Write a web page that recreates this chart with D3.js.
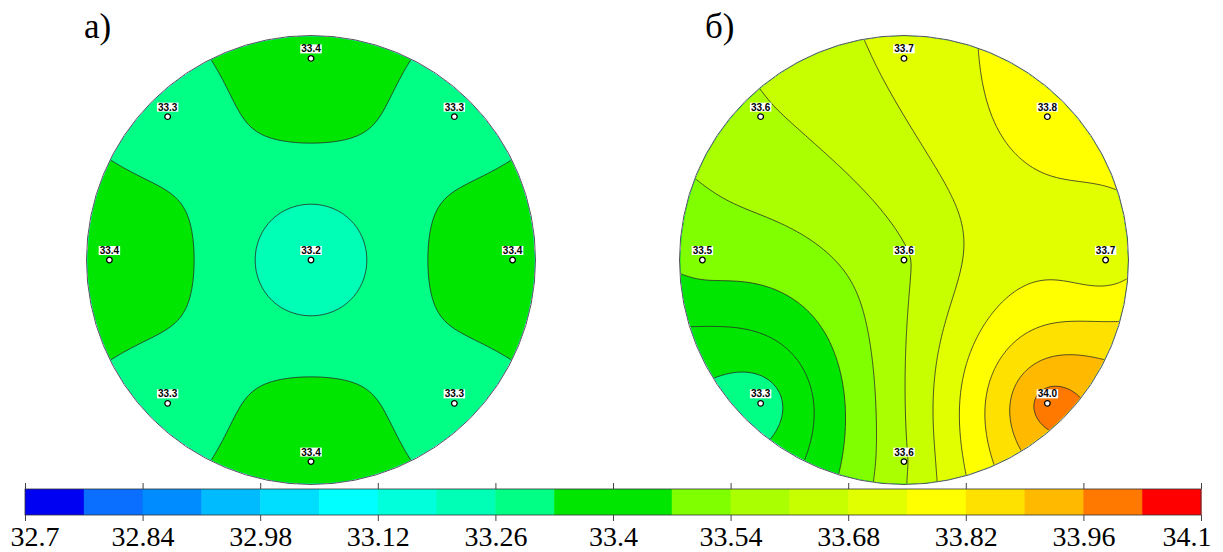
<!DOCTYPE html>
<html>
<head>
<meta charset="utf-8">
<script src="https://cdn.jsdelivr.net/npm/d3@7"></script>
<style>
  body { margin: 0; background: #fff; }
  svg { display: block; }
</style>
</head>
<body>
<div class="canvas"></div>
<script>
// measurement sites on the wafer, mm (y points up)
const siteX = [0, 0, 32, 45, 32, 0, -32, -45, -32];
const siteY = [0, 45, 32, 0, -32, -45, -32, 0, 32];
const waferRadius = 50;

// measured values at the sites, panel a) and panel б)
const valuesA = [33.2, 33.4, 33.3, 33.4, 33.3, 33.4, 33.3, 33.4, 33.3];
const valuesB = [33.6, 33.7, 33.8, 33.7, 34.0, 33.6, 33.28, 33.5, 33.6];

const panelLabels = ["а)", "б)"];

// contour levels and the colour of each band
const levels = [32.70, 32.77, 32.84, 32.91, 32.98, 33.05, 33.12, 33.19, 33.26, 33.33,
  33.40, 33.47, 33.54, 33.61, 33.68, 33.75, 33.82, 33.89, 33.96, 34.03, 34.10];
const bandColors = ["#0000f2", "#0a6eff", "#008cff", "#00bcff", "#00deff", "#00ffff",
  "#00ffda", "#00ffb6", "#00ff84", "#00e600", "#00e600", "#80ff00", "#aaff00",
  "#c8ff00", "#e2ff00", "#ffff00", "#ffe100", "#ffba00", "#ff7800", "#ff0000"];
const tickValues = [32.7, 32.84, 32.98, 33.12, 33.26, 33.4, 33.54, 33.68, 33.82, 33.96, 34.1];

const width = 1223;
const height = 552;
const radiusPx = 224;
const panelCenters = [[311, 260], [904, 260]];
const letterX = [84, 705];
const gridN = 240;
const gridExtent = 53;

const svg = d3
  .select(".canvas")
  .append("svg")
  .attr("width", width)
  .attr("height", height);

// inverse distance weighting, power 2
function idwField(values) {
  return (x, y) => {
    let s = 0, sw = 0;
    for (let i = 0; i < siteX.length; i++) {
      const d2 = (x - siteX[i]) ** 2 + (y - siteY[i]) ** 2;
      if (d2 < 1e-9) return values[i];
      s += values[i] / d2;
      sw += 1 / d2;
    }
    return s / sw;
  };
}

// ordinary kriging with a linear variogram
function krigingField(values) {
  const n = siteX.length;
  const A = [];
  for (let i = 0; i < n; i++) {
    const row = siteX.map((_, j) => Math.hypot(siteX[i] - siteX[j], siteY[i] - siteY[j]));
    row.push(1);
    A.push(row.concat([values[i]]));
  }
  A.push(new Array(n).fill(1).concat([0, 0]));
  // gauss-jordan
  const m = n + 1;
  for (let c = 0; c < m; c++) {
    let p = c;
    for (let r = c + 1; r < m; r++) if (Math.abs(A[r][c]) > Math.abs(A[p][c])) p = r;
    [A[c], A[p]] = [A[p], A[c]];
    for (let r = 0; r < m; r++) {
      if (r === c) continue;
      const f = A[r][c] / A[c][c];
      for (let k = c; k <= m; k++) A[r][k] -= f * A[c][k];
    }
  }
  const w = A.map((row, i) => row[m] / row[i]);
  return (x, y) => {
    let s = w[n];
    for (let i = 0; i < n; i++) s += w[i] * Math.hypot(x - siteX[i], y - siteY[i]);
    return s;
  };
}

const panelFields = [idwField, krigingField];

function drawPanel(values, center, label, index) {
  const [cx, cy] = center;
  const x = d3.scaleLinear().domain([-waferRadius, waferRadius]).range([cx - radiusPx, cx + radiusPx]);
  const y = d3.scaleLinear().domain([-waferRadius, waferRadius]).range([cy + radiusPx, cy - radiusPx]);
  const gridX = d3.scaleLinear().domain([0.5, gridN - 0.5]).range([-gridExtent, gridExtent]);
  const gridY = d3.scaleLinear().domain([0.5, gridN - 0.5]).range([gridExtent, -gridExtent]);

  const field = panelFields[index](values);
  const grid = new Array(gridN * gridN);
  for (let j = 0; j < gridN; j++) {
    for (let i = 0; i < gridN; i++) {
      grid[j * gridN + i] = field(gridX(i + 0.5), gridY(j + 0.5));
    }
  }

  const contours = d3.contours().size([gridN, gridN]).thresholds(levels.slice(0, -1))(grid);
  const projection = d3.geoTransform({
    point: function (px, py) {
      this.stream.point(x(gridX(px)), y(gridY(py)));
    }
  });
  const path = d3.geoPath(projection);

  const clipId = "wafer-" + index;
  svg.append("clipPath").attr("id", clipId)
    .append("circle").attr("cx", cx).attr("cy", cy).attr("r", radiusPx - 0.5);

  const g = svg.append("g").attr("clip-path", `url(#${clipId})`);

  g.selectAll("path.band")
    .data(contours)
    .enter()
    .append("path")
    .attr("class", "band")
    .attr("d", path)
    .attr("fill", (c, k) => bandColors[k]);

  g.selectAll("path.line")
    .data(contours.slice(1))
    .enter()
    .append("path")
    .attr("class", "line")
    .attr("d", path)
    .attr("fill", "none")
    .attr("stroke", "#2a2a2a")
    .attr("stroke-width", 0.8);

  svg.append("circle")
    .attr("cx", cx).attr("cy", cy).attr("r", radiusPx + 0.5)
    .attr("fill", "none")
    .attr("stroke", "#555")
    .attr("stroke-width", 1);

  const sites = svg.append("g")
    .selectAll("g")
    .data(values)
    .enter()
    .append("g")
    .attr("transform", (v, i) => `translate(${x(siteX[i])},${y(siteY[i])})`);

  const txt = sites.append("text")
    .text(v => v.toFixed(1))
    .attr("y", -6)
    .attr("text-anchor", "middle")
    .style("font-family", "'Liberation Sans', Arial, sans-serif")
    .style("font-weight", "bold")
    .style("font-size", "10px");

  sites.insert("rect", "text")
    .attr("x", function (v, i) { return -txt.nodes()[i].getComputedTextLength() / 2 - 1; })
    .attr("y", -14)
    .attr("width", function (v, i) { return txt.nodes()[i].getComputedTextLength() + 2; })
    .attr("height", 9)
    .attr("fill", "#fff");

  sites.append("circle")
    .attr("r", 2.8)
    .attr("fill", "#fff")
    .attr("stroke", "#000")
    .attr("stroke-width", 1.3);

  svg.append("text")
    .attr("x", letterX[index])
    .attr("y", 38)
    .text(label)
    .style("font-family", "'Liberation Serif', 'Times New Roman', serif")
    .style("font-size", "35px");
}

drawPanel(valuesA, panelCenters[0], panelLabels[0], 0);
drawPanel(valuesB, panelCenters[1], panelLabels[1], 1);

// colour bar
const barTop = 489;
const barHeight = 26;
const barX = d3.scaleLinear().domain([levels[0], levels[levels.length - 1]]).range([25, 1201]);

svg.append("g")
  .selectAll("rect")
  .data(bandColors)
  .enter()
  .append("rect")
  .attr("x", (c, k) => barX(levels[k]))
  .attr("y", barTop)
  .attr("width", (c, k) => barX(levels[k + 1]) - barX(levels[k]) + 0.5)
  .attr("height", barHeight)
  .attr("fill", c => c);

svg.append("rect")
  .attr("x", barX(levels[0]))
  .attr("y", barTop)
  .attr("width", barX(levels[levels.length - 1]) - barX(levels[0]))
  .attr("height", barHeight)
  .attr("fill", "none")
  .attr("stroke", "#333")
  .attr("stroke-width", 0.8);

const topAxis = svg.append("g")
  .attr("transform", `translate(0,${barTop})`)
  .call(d3.axisTop(barX).tickValues(tickValues).tickSize(6).tickFormat(""));
topAxis.select(".domain").remove();

const bottomAxis = svg.append("g")
  .attr("transform", `translate(0,${barTop + barHeight})`)
  .call(d3.axisBottom(barX).tickValues(tickValues).tickSize(6).tickPadding(5).tickFormat(d => d));
bottomAxis.select(".domain").remove();
svg.selectAll(".tick line").attr("stroke", "#444");

bottomAxis.selectAll("text")
  .attr("fill", "#000")
  .style("font-family", "'Liberation Serif', 'Times New Roman', serif")
  .style("font-size", "28px")
  .each(function (d) {
    const w = this.getComputedTextLength();
    const pos = barX(d);
    let shift = 0;
    if (pos - w / 2 < 10) shift = 10 - (pos - w / 2);
    if (pos + w / 2 > 1211) shift = 1211 - (pos + w / 2);
    d3.select(this).attr("x", shift);
  });
</script>
</body>
</html>
